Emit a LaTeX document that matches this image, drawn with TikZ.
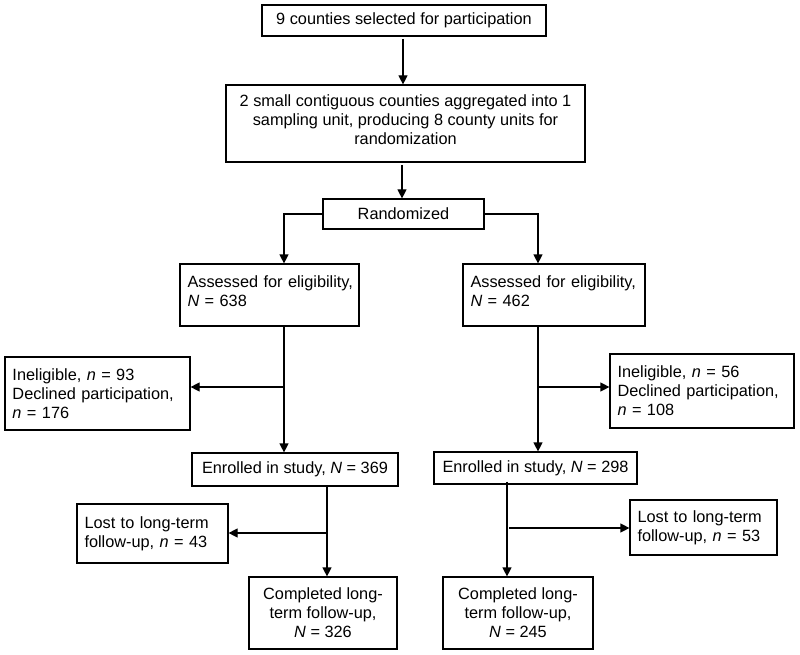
\documentclass[tikz,border=0pt]{standalone}
\usepackage{fontspec}
\setmainfont{Liberation Sans}
\usetikzlibrary{arrows.meta}
\begin{document}
\begin{tikzpicture}[x=1pt,y=-1pt,
  box/.style={draw, line width=1.2pt, inner xsep=7.5pt, inner ysep=0pt,
    font=\fontsize{16.3}{19}\selectfont},
  cbox/.style={box, align=center},
  lbox/.style={box, align=left},
  arr/.style={line width=1.2pt, -{Triangle[length=9pt,width=9pt]}}]
\useasboundingbox (0,0) rectangle (800,655);

\node[cbox, minimum width=284pt, minimum height=31pt] (b1) at (404,20.5)
  {9 counties selected for participation};
\node[cbox, minimum width=359pt, minimum height=77pt, text depth=8pt] (b2) at (405.5,123.5)
  {2 small contiguous counties aggregated into 1\\sampling unit, producing 8 county units for\\randomization};
\node[cbox, minimum width=161pt, minimum height=30pt] (rand) at (403.5,214)
  {Randomized};

\node[lbox, text width=164pt, minimum height=62pt, text depth=27pt] (aL) at (269.5,295)
  {\mbox{Assessed for eligibility,}\\\mbox{\textit{N} = 638}};
\node[lbox, text width=167pt, minimum height=62pt, text depth=27pt] (aR) at (554,295)
  {\mbox{Assessed for eligibility,}\\\mbox{\textit{N} = 462}};

\node[lbox, text width=170pt, minimum height=73pt] (iL) at (97.5,393.5)
  {\mbox{Ineligible, \textit{n} = 93}\\\mbox{Declined participation,}\\\mbox{\textit{n} = 176}};
\node[lbox, text width=169pt, minimum height=74pt] (iR) at (702,391)
  {\mbox{Ineligible, \textit{n} = 56}\\\mbox{Declined participation,}\\\mbox{\textit{n} = 108}};

\node[cbox, minimum width=206pt, minimum height=33pt] (eL) at (295,469.5)
  {Enrolled in study, \textit{N} = 369};
\node[cbox, minimum width=203pt, minimum height=32pt] (eR) at (535.5,468)
  {Enrolled in study, \textit{N} = 298};

\node[lbox, text width=136pt, minimum height=59pt] (lL) at (152.5,533.5)
  {\mbox{Lost to long-term}\\\mbox{follow-up, \textit{n} = 43}};
\node[lbox, text width=132pt, minimum height=55pt] (lR) at (703.5,527.5)
  {\mbox{Lost to long-term}\\\mbox{follow-up, \textit{n} = 53}};

\node[cbox, minimum width=148pt, minimum height=72pt] (cL) at (323,613)
  {Completed long-\\term follow-up,\\\textit{N} = 326};
\node[cbox, minimum width=150pt, minimum height=72pt] (cR) at (518,613)
  {Completed long-\\term follow-up,\\\textit{N} = 245};

% connectors
\coordinate (t1) at (403,39);
\draw[arr] (t1) -- (t1 |- b2.north);
\coordinate (t2) at (402,165);
\draw[arr] (t2) -- (t2 |- rand.north);

\coordinate (sl) at (284,214);
\coordinate (sr) at (538,214);
\draw[arr] (rand.west) -- (sl) -- (sl |- aL.north);
\draw[arr] (rand.east) -- (sr) -- (sr |- aR.north);

\draw[arr] (sl |- aL.south) -- (sl |- eL.north);
\coordinate (bl) at (284,387);
\draw[arr] (bl) -- (bl -| iL.east);

\draw[arr] (sr |- aR.south) -- (sr |- eR.north);
\coordinate (br) at (538,387);
\draw[arr] (br) -- (br -| iR.west);

\coordinate (vl) at (327,533);
\draw[arr] (vl |- eL.south) -- (vl |- cL.north);
\draw[arr] (vl) -- (vl -| lL.east);

\coordinate (vr) at (507,528);
\draw[arr] ([yshift=3pt]vr |- eR.south) -- (vr |- cR.north);
\draw[arr] ([xshift=2pt]vr) -- (vr -| lR.west);
\end{tikzpicture}
\end{document}
